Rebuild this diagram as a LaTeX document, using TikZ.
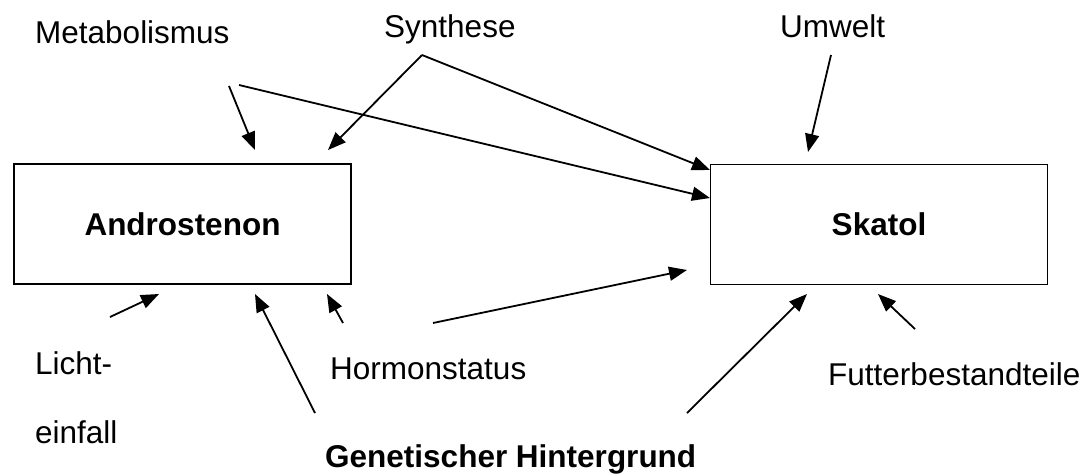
\documentclass[tikz,border=0pt]{standalone}
\usepackage{fontspec}
\setmainfont{Liberation Sans}
\usetikzlibrary{arrows.meta}
\begin{document}
\begin{tikzpicture}[x=1pt,y=-1pt,
  lbl/.style={anchor=base west,inner sep=0pt,font=\fontsize{31.5}{37}\selectfont},
  blbl/.style={lbl,font=\fontsize{31.5}{37}\selectfont\bfseries},
  box/.style={draw,line width=1.8pt,minimum width=337pt,minimum height=120pt,inner sep=0pt,
     font=\fontsize{31.5}{37}\selectfont\bfseries},
  arr/.style={line width=1.8pt,-{Triangle[length=18pt,width=14pt]}}]
\useasboundingbox (0,0) rectangle (1090,475);
% boxes
\node[box] (andro) at (182.5,224) {\raisebox{-3pt}{Androstenon}};
\node[box] (skatol) at (879,224.5) {\raisebox{-3pt}{Skatol}};
% labels
\node[lbl] (metab) at (35,43) {Metabolismus};
\node[lbl] (synth) at (384,37) {Synthese};
\node[lbl] (umwelt) at (780,37) {Umwelt};
\node[lbl] (licht) at (35,374) {Licht-};
\node[lbl] (einfall) at (35,443) {einfall};
\node[lbl] (hormon) at (330,379) {Hormonstatus};
\node[lbl] (futter) at (828,385) {Futterbestandteile};
\node[blbl] (genet) at (325,467) {Genetischer Hintergrund};
% connector free ends
\coordinate (m1) at (229,86);
\coordinate (m2) at (239,85);
\coordinate (s0) at (422,55);
\coordinate (u0) at (831,55);
\coordinate (l0) at (110,317);
\coordinate (g1) at (315,413);
\coordinate (g2) at (687,413);
\coordinate (h1) at (343,323);
\coordinate (h2) at (433,323);
\coordinate (f0) at (915,329);
% tips
\coordinate (tMA) at (255,150);
\coordinate (tSA) at (328,150);
\coordinate (tMS) at (710,198);
\coordinate (tSS) at (710,170);
\coordinate (tUS) at (808,152);
\coordinate (tLA) at (159,294);
\coordinate (tGA) at (255,294);
\coordinate (tHA) at (327,294);
\coordinate (tHS) at (687,270);
\coordinate (tGS) at (807,294);
\coordinate (tFS) at (878,294);
% arrows
\draw[arr] (m1) -- (tMA);
\draw[arr] (m2) -- (tMS);
\draw[arr] (s0) -- (tSA);
\draw[arr] (s0) -- (tSS);
\draw[arr] (u0) -- (tUS);
\draw[arr] (l0) -- (tLA);
\draw[arr] (g1) -- (tGA);
\draw[arr] (h1) -- (tHA);
\draw[arr] (h2) -- (tHS);
\draw[arr] (g2) -- (tGS);
\draw[arr] (f0) -- (tFS);
\end{tikzpicture}
\end{document}
